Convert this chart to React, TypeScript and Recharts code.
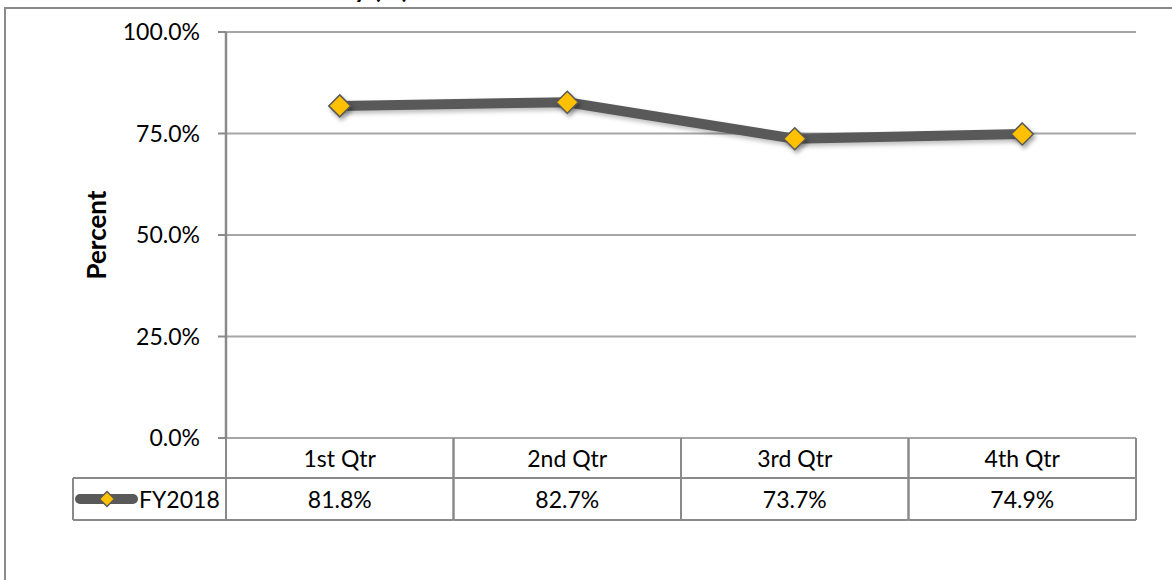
import React from "react"
import { LineChart, Line, XAxis, YAxis, CartesianGrid } from "recharts"

const categories = ["1st Qtr", "2nd Qtr", "3rd Qtr", "4th Qtr"]
const fy2018 = [81.8, 82.7, 73.7, 74.9]
const yTicks = [0, 25, 50, 75, 100]
const seriesName = "FY2018"
const titleTail = "y (%)"

const data = categories.map((q, i) => ({ q, [seriesName]: fy2018[i] }))

// layout
const W = 1172
const H = 580
const PLOT_LEFT = 226
const PLOT_RIGHT = 1136
const PLOT_TOP = 32
const PLOT_BOTTOM = 438
const ROW1 = 478
const ROW2 = 520
const LEGEND_LEFT = 73
const Y_AXIS_W = 100
const X_AXIS_H = ROW2 - PLOT_BOTTOM
const BW = (PLOT_RIGHT - PLOT_LEFT) / categories.length

const LINE = "#595959"
const GOLD = "#FFC000"
const BORDER = "#8a8a8a"
const GRID = "#a6a6a6"
const FONT = "Lato, 'Open Sans', sans-serif"

const fmt = (v: number) => v.toFixed(1) + "%"

const Diamond = ({ cx, cy, r = 11 }: { cx: number; cy: number; r?: number }) => (
  <path
    d={`M${cx},${cy - r} L${cx + r},${cy} L${cx},${cy + r} L${cx - r},${cy} Z`}
    fill={GOLD}
    stroke={LINE}
    strokeWidth={1.5}
  />
)

const Dot = (props: any) => {
  const { cx, cy, index } = props
  if (cx == null || cy == null) return null
  return (
    <g key={`dot-${index}`} style={{ filter: "drop-shadow(2px 3px 2px rgba(0,0,0,0.35))" }}>
      <Diamond cx={cx} cy={cy} />
    </g>
  )
}

const TableTick = (props: any) => {
  const { x, payload, index } = props
  const l = x - BW / 2
  const r = x + BW / 2
  const val = fy2018[index]
  return (
    <g>
      <line x1={l} y1={PLOT_BOTTOM} x2={l} y2={ROW2} stroke={BORDER} strokeWidth={2} />
      <line x1={r} y1={PLOT_BOTTOM} x2={r} y2={ROW2} stroke={BORDER} strokeWidth={2} />
      <line x1={l} y1={ROW1} x2={r} y2={ROW1} stroke={BORDER} strokeWidth={2} />
      <line x1={l} y1={ROW2} x2={r} y2={ROW2} stroke={BORDER} strokeWidth={2} />
      <text x={x} y={(PLOT_BOTTOM + ROW1) / 2} textAnchor="middle" dominantBaseline="central" fontSize={23} fill="#000" fontFamily={FONT}>
        {payload.value}
      </text>
      <text x={x} y={(ROW1 + ROW2) / 2} textAnchor="middle" dominantBaseline="central" fontSize={23} fill="#000" fontFamily={FONT}>
        {val != null ? fmt(val) : ""}
      </text>
      {index === 0 && (
        <g>
          <line x1={LEGEND_LEFT} y1={ROW1} x2={l} y2={ROW1} stroke={BORDER} strokeWidth={2} />
          <line x1={LEGEND_LEFT} y1={ROW2} x2={l} y2={ROW2} stroke={BORDER} strokeWidth={2} />
          <line x1={LEGEND_LEFT} y1={ROW1} x2={LEGEND_LEFT} y2={ROW2} stroke={BORDER} strokeWidth={2} />
          <line x1={80} y1={(ROW1 + ROW2) / 2} x2={133} y2={(ROW1 + ROW2) / 2} stroke={LINE} strokeWidth={10} strokeLinecap="round" />
          <Diamond cx={107} cy={(ROW1 + ROW2) / 2} r={7.5} />
          <text x={139} y={(ROW1 + ROW2) / 2} dominantBaseline="central" fontSize={23} fill="#000" fontFamily={FONT}>
            {seriesName}
          </text>
        </g>
      )}
    </g>
  )
}

export default function App() {
  return (
    <div style={{ position: "relative", width: W, height: H, overflow: "hidden", fontFamily: FONT, background: "#fff" }}>
      <style>{"body{margin:0;overflow:hidden}.recharts-line-curve{filter:drop-shadow(2px 3px 2px rgba(0,0,0,0.25))}"}</style>
      <div
        style={{
          position: "absolute",
          left: 4,
          top: 7,
          width: W + 20,
          height: H + 20,
          border: `2px solid ${BORDER}`,
          boxSizing: "border-box",
        }}
      />
      <svg width={W} height={20} style={{ position: "absolute", left: 0, top: 0 }}>
        <text x={354} y={-2} fontSize={26} fontWeight="bold" fill="#000" fontFamily={FONT}>
          {titleTail}
        </text>
      </svg>
      <div style={{ position: "absolute", left: 0, top: 0 }}>
        <LineChart
          width={W}
          height={H}
          data={data}
          margin={{ top: PLOT_TOP, right: W - PLOT_RIGHT, bottom: H - ROW2, left: PLOT_LEFT - Y_AXIS_W }}
        >
          <CartesianGrid horizontal vertical={false} stroke={GRID} strokeWidth={2} />
          <XAxis
            dataKey="q"
            height={X_AXIS_H}
            axisLine={false}
            tickLine={false}
            interval={0}
            padding={{ left: BW / 2, right: BW / 2 }}
            tick={<TableTick />}
          />
          <YAxis
            width={Y_AXIS_W}
            domain={[0, 100]}
            ticks={yTicks}
            tickFormatter={fmt}
            axisLine={{ stroke: BORDER, strokeWidth: 2.5 }}
            tickLine={{ stroke: BORDER, strokeWidth: 2 }}
            tickSize={8}
            tickMargin={18}
            tick={{ fontSize: 23, fill: "#000", fontFamily: FONT }}
            label={{
              value: "Percent",
              angle: -90,
              position: "insideLeft",
              offset: -29,
              style: { fontSize: 26, fontWeight: "bold", fill: "#000", fontFamily: FONT, textAnchor: "middle" },
            }}
          />
          <Line
            type="linear"
            dataKey={seriesName}
            stroke={LINE}
            strokeWidth={10}
            dot={<Dot />}
            activeDot={false}
            isAnimationActive={false}
          />
        </LineChart>
      </div>
    </div>
  )
}
